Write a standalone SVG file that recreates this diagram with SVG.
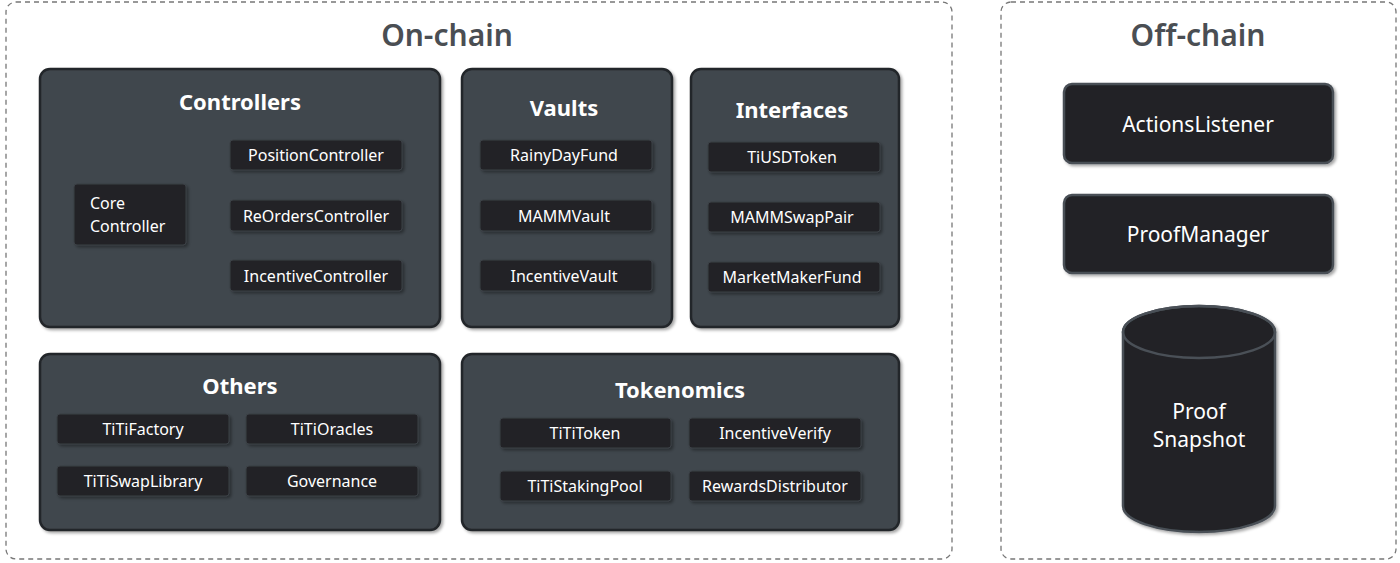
<svg xmlns="http://www.w3.org/2000/svg" width="1400" height="563" viewBox="0 0 1400 563">
<defs>
<filter id="sh" x="-10%" y="-10%" width="130%" height="140%"><feDropShadow dx="2" dy="2" stdDeviation="1.5" flood-color="#000" flood-opacity="0.35"/></filter>
</defs>
<style>
text{font-family:"Noto Sans","Liberation Sans",sans-serif;fill:#fff;text-anchor:middle;dominant-baseline:central}
.zone{fill:#fff;stroke:#777;stroke-width:1.3;stroke-dasharray:5 4}
.zt{fill:#4a4e53;font-size:30px;font-weight:600}
.pn{fill:#41464d;stroke:#23272b;stroke-width:2.5;filter:url(#sh)}
.pt{font-size:22px;font-weight:bold}
.it{fill:#212427;stroke:#3a3f45;stroke-width:1;filter:url(#sh)}
.itt{font-size:16px}
.big{fill:#212427;stroke:#4a5057;stroke-width:2.5;filter:url(#sh)}
.bt{font-size:21px}
</style>
<rect class="zone" x="6" y="2" width="946" height="557" rx="10"/>
<text class="zt" x="447" y="34">On-chain</text>
<rect class="zone" x="1001" y="2" width="395" height="557" rx="10"/>
<text class="zt" x="1198" y="34">Off-chain</text>

<g id="controllers"><rect class="pn" x="40" y="69" width="400" height="258" rx="10"/><text class="pt" x="240" y="101">Controllers</text></g>
<g id="core-controller"><rect class="it" x="74" y="184" width="112" height="61" rx="3"/><text class="itt" x="90" y="203" style="text-anchor:start">Core</text><text class="itt" x="90" y="226" style="text-anchor:start">Controller</text></g>
<g id="position-controller"><rect class="it" x="230" y="140" width="172" height="30" rx="3"/><text class="itt" x="316" y="155">PositionController</text></g>
<g id="reorders-controller"><rect class="it" x="230" y="200" width="172" height="31" rx="3"/><text class="itt" x="316" y="216">ReOrdersController</text></g>
<g id="incentive-controller"><rect class="it" x="230" y="260" width="172" height="31" rx="3"/><text class="itt" x="316" y="276">IncentiveController</text></g>

<g id="vaults"><rect class="pn" x="462" y="69" width="210" height="258" rx="10"/><text class="pt" x="564" y="107">Vaults</text></g>
<g id="rainy"><rect class="it" x="480" y="140" width="172" height="30" rx="3"/><text class="itt" x="564" y="155">RainyDayFund</text></g>
<g id="mammvault"><rect class="it" x="480" y="200" width="172" height="31" rx="3"/><text class="itt" x="564" y="216">MAMMVault</text></g>
<g id="incentivevault"><rect class="it" x="480" y="260" width="172" height="31" rx="3"/><text class="itt" x="564" y="276">IncentiveVault</text></g>

<g id="interfaces"><rect class="pn" x="691" y="69" width="208" height="258" rx="10"/><text class="pt" x="792" y="109">Interfaces</text></g>
<g id="tiusd"><rect class="it" x="708" y="142" width="172" height="30" rx="3"/><text class="itt" x="792" y="157">TiUSDToken</text></g>
<g id="mammswap"><rect class="it" x="708" y="202" width="172" height="30" rx="3"/><text class="itt" x="792" y="217">MAMMSwapPair</text></g>
<g id="mmfund"><rect class="it" x="708" y="262" width="172" height="30" rx="3"/><text class="itt" x="792" y="277">MarketMakerFund</text></g>

<g id="others"><rect class="pn" x="40" y="354" width="400" height="176" rx="10"/><text class="pt" x="240" y="385">Others</text></g>
<g id="factory"><rect class="it" x="57" y="414" width="172" height="30" rx="3"/><text class="itt" x="143" y="429">TiTiFactory</text></g>
<g id="oracles"><rect class="it" x="246" y="414" width="172" height="30" rx="3"/><text class="itt" x="332" y="429">TiTiOracles</text></g>
<g id="swaplib"><rect class="it" x="57" y="466" width="172" height="30" rx="3"/><text class="itt" x="143" y="481">TiTiSwapLibrary</text></g>
<g id="governance"><rect class="it" x="246" y="466" width="172" height="30" rx="3"/><text class="itt" x="332" y="481">Governance</text></g>

<g id="tokenomics"><rect class="pn" x="462" y="354" width="437" height="176" rx="10"/><text class="pt" x="680" y="389">Tokenomics</text></g>
<g id="tititoken"><rect class="it" x="500" y="418" width="171" height="30" rx="3"/><text class="itt" x="585" y="433">TiTiToken</text></g>
<g id="incverify"><rect class="it" x="689" y="418" width="172" height="30" rx="3"/><text class="itt" x="775" y="433">IncentiveVerify</text></g>
<g id="staking"><rect class="it" x="500" y="471" width="171" height="30" rx="3"/><text class="itt" x="585" y="486">TiTiStakingPool</text></g>
<g id="rewards"><rect class="it" x="689" y="471" width="172" height="30" rx="3"/><text class="itt" x="775" y="486">RewardsDistributor</text></g>

<g id="actions-listener"><rect class="big" x="1064" y="84" width="269" height="79" rx="8"/><text class="bt" x="1198" y="124">ActionsListener</text></g>
<g id="proof-manager"><rect class="big" x="1064" y="195" width="269" height="78" rx="8"/><text class="bt" x="1198" y="234">ProofManager</text></g>
<g id="proof-snapshot">
<path class="big" d="M1123,332 A76,26 0 0 1 1275,332 L1275,506 A76,26 0 0 1 1123,506 Z"/>
<ellipse cx="1199" cy="332" rx="76" ry="26" fill="none" stroke="#4a5057" stroke-width="2.5"/>
<text class="bt" x="1199" y="411">Proof</text><text class="bt" x="1199" y="439">Snapshot</text>
</g>
<g id="connectors"/>
</svg>
